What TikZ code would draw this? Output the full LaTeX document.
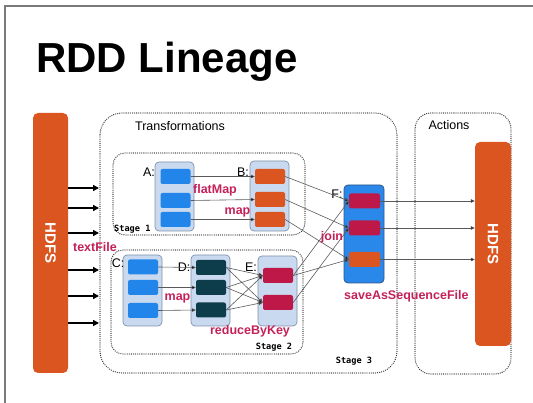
\documentclass[tikz,border=0pt]{standalone}
\usepackage{fontspec}
\setmainfont{Liberation Sans}
\newfontfamily\monofnt{DejaVu Sans Mono}
\usetikzlibrary{arrows.meta}
\definecolor{hdfsor}{HTML}{DA5520}
\definecolor{itemblue}{HTML}{2285EA}
\definecolor{contfill}{HTML}{C9D9F0}
\definecolor{contdraw}{HTML}{8091A8}
\definecolor{tealc}{HTML}{0D3C4B}
\definecolor{crim}{HTML}{BE1848}
\definecolor{lblred}{HTML}{C4215A}
\definecolor{fblue}{HTML}{2A88EA}
\definecolor{fborder}{HTML}{2F5685}
\definecolor{framegray}{HTML}{7A7A7A}
\tikzset{
  hdfsbar/.style={rectangle,fill=hdfsor,rounded corners=5pt,inner sep=0pt,
    text=white,font=\bfseries\fontsize{15}{15}\selectfont},
  stagebox/.style={draw=black!80,line width=1.3pt,line cap=round,dash pattern=on 0pt off 2.1pt},
  cont/.style={rectangle,fill=contfill,draw=contdraw,line width=0.7pt,rounded corners=4pt,
    minimum width=39pt,inner sep=0pt},
  itm/.style={rectangle,rounded corners=2pt,minimum width=30pt,minimum height=15pt,inner sep=0pt},
  thickarr/.style={line width=1.6pt,-{Triangle[length=6pt,width=6pt]}},
  thinarr/.style={draw=black!65,line width=0.6pt,-{Triangle[length=4pt,width=3.5pt,fill=black]}},
  lbl/.style={font=\fontsize{12.5}{12.5}\selectfont,inner sep=0pt},
  oplbl/.style={font=\bfseries\fontsize{12.5}{12.5}\selectfont,text=lblred,inner sep=0pt},
  stagelbl/.style={font=\monofnt\bfseries\fontsize{8.6}{8.6}\selectfont,inner sep=0pt},
}
\begin{document}
\begin{tikzpicture}[x=1pt,y=-1pt]
\useasboundingbox (0,0) rectangle (533,403);
% slide frame
\draw[framegray,line width=1.4pt] (5,403) -- (5,6) -- (533,6);
% title
\node[anchor=base west,inner sep=0pt,font=\bfseries\fontsize{42}{42}\selectfont] (title) at (36,73) {RDD Lineage};

% outer boxes
\draw[stagebox,rounded corners=22pt] (100,113) rectangle (397,373);
\draw[stagebox,rounded corners=16pt] (415,113) rectangle (511,374);
\node[lbl] (transl) at (180,126) {Transformations};
\node[lbl] (actl) at (449,125) {Actions};
\node[stagelbl] (st3) at (354,361) {Stage 3};

% stage boxes
\draw[stagebox,rounded corners=12pt] (113,153) rectangle (305,235);
\draw[stagebox,rounded corners=12pt] (111,250) rectangle (303,354);
\node[stagelbl,anchor=west] (st1) at (114,229) {Stage 1};
\node[stagelbl] (st2) at (274,347) {Stage 2};

% HDFS bars
\node[hdfsbar,minimum width=35pt,minimum height=260pt] (hdfsL) at (50.5,243) {};
\node[rotate=-90,text=white,font=\bfseries\fontsize{15}{15}\selectfont] at (hdfsL) {HDFS};
\node[hdfsbar,minimum width=36pt,minimum height=204pt] (hdfsR) at (493,244) {};
\node[rotate=-90,text=white,font=\bfseries\fontsize{15}{15}\selectfont] at (hdfsR) {HDFS};

% arrows HDFS -> transformations
\foreach \yy [count=\i] in {188,208,233,270,296,323}{
  \coordinate (t\i) at (99,\yy);
  \draw[thickarr] (hdfsL.east |- t\i) -- (t\i);
}
\node[oplbl] (tf) at (95,247) {textFile};

% containers
\node[cont,minimum height=69pt] (A) at (174.5,196.5) {};
\node[cont,minimum height=70pt] (B) at (269.5,196) {};
\node[cont,minimum height=71pt] (C) at (142.5,290.5) {};
\node[cont,minimum height=71pt] (D) at (210.5,290.5) {};
\node[cont,minimum height=70pt] (E) at (277.5,291) {};
\node[rectangle,fill=fblue,draw=fborder,line width=0.8pt,rounded corners=4pt,
  minimum width=40pt,minimum height=98pt,inner sep=0pt] (F) at (364,234) {};

% items
\node[itm,fill=itemblue] (A1) at (175.5,176.5) {};
\node[itm,fill=itemblue] (A2) at (175.5,200.5) {};
\node[itm,fill=itemblue] (A3) at (175.5,219.5) {};
\node[itm,fill=hdfsor] (B1) at (270,176.5) {};
\node[itm,fill=hdfsor] (B2) at (270,199.5) {};
\node[itm,fill=hdfsor] (B3) at (270,219.5) {};
\node[itm,fill=itemblue] (C1) at (143,267) {};
\node[itm,fill=itemblue] (C2) at (143,287.5) {};
\node[itm,fill=itemblue] (C3) at (143,310.5) {};
\node[itm,fill=tealc] (D1) at (211,267.5) {};
\node[itm,fill=tealc] (D2) at (211,287.5) {};
\node[itm,fill=tealc] (D3) at (211,310) {};
\node[itm,fill=crim] (E1) at (278,275.5) {};
\node[itm,fill=crim] (E2) at (278,302.5) {};
\node[itm,fill=crim,minimum width=31pt] (F1) at (364.5,201) {};
\node[itm,fill=crim,minimum width=31pt] (F2) at (364.5,228) {};
\node[itm,fill=hdfsor,minimum width=31pt] (F3) at (364.5,259.5) {};

% labels
\node[lbl] (la) at (149,172) {A:};
\node[lbl] (lb) at (243,172) {B:};
\node[lbl] (lc) at (118,263) {C:};
\node[lbl] (ld) at (184,267) {D:};
\node[lbl] (le) at (251,267) {E:};
\node[lbl] (lf) at (337,194) {F:};

% connectors
\foreach \i in {1,2,3}{
  \draw[thinarr] (A\i.east) -- (B\i.west);
  \draw[thinarr] (C\i.east) -- (D\i.west);
  \draw[thinarr] (B\i.east) -- (F\i.west);
  \draw[thinarr] (F\i.east) -- (hdfsR.west |- F\i);
  \foreach \j in {1,2}{
    \draw[thinarr] (D\i.east) -- (E\j.west);
  }
}
\draw[thinarr] (E1.east) -- (F1.west);
\draw[thinarr] (E1.east) -- (F3.west);
\draw[thinarr] (E2.east) -- (F2.west);

% operation labels
\node[oplbl] (fm) at (215,190) {flatMap};
\node[oplbl] (mp1) at (237.5,212) {map};
\node[oplbl] (mp2) at (177.5,298) {map};
\node[oplbl] (rbk) at (250,331) {reduceByKey};
\node[oplbl] (jn) at (332,237) {join};
\node[oplbl,anchor=west] (sasf) at (344,296) {saveAsSequenceFile};
\end{tikzpicture}
\end{document}
